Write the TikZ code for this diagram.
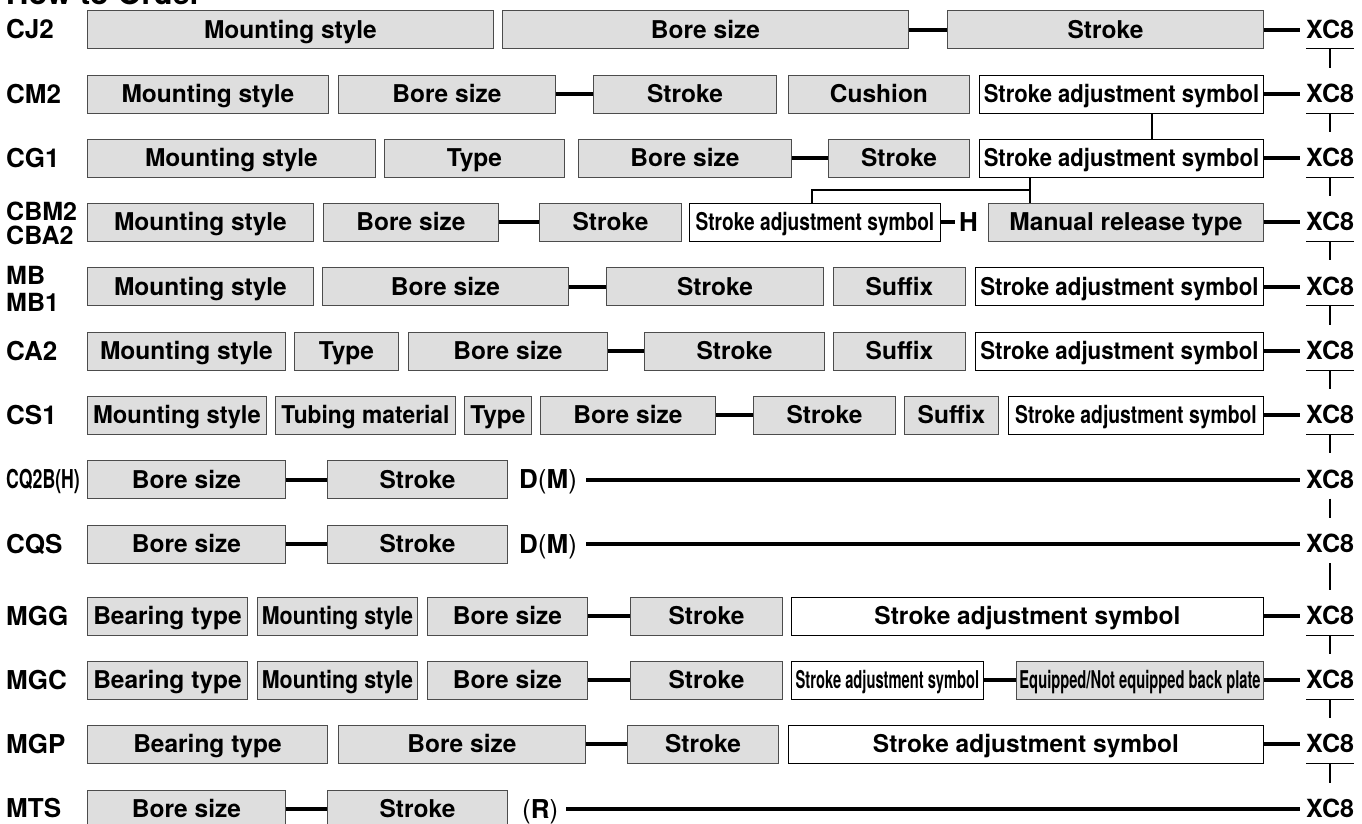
\documentclass[tikz,border=0pt]{standalone}
\usepackage{fontspec}
\setmainfont{TeX Gyre Heros}
\usepackage{graphicx}

\begin{document}
\begin{tikzpicture}[
    x=1pt, y=-1pt,
    opt/.style={
        draw=black!70,
        fill=black!13,     % grey entry box
        line width=0.9pt,
        anchor=west,
        minimum height=38pt,
        inner sep=0pt,
        text height=17.5pt,
        text depth=0pt,
        font=\bfseries\fontsize{24.5}{28}\selectfont
    },
    adj/.style={opt, draw=black, fill=white},   % white box
    code/.style={anchor=west, inner sep=0pt, text height=18pt, text depth=0pt,
        font=\bfseries\fontsize{26}{26}\selectfont},
    codetwo/.style={anchor=west, inner sep=0pt, align=left},
    xc/.style={anchor=west, inner sep=0pt, minimum height=38pt,
        text height=17.5pt, text depth=0pt,
        font=\bfseries\fontsize{25}{25}\selectfont},
    link/.style={line width=4pt},
    tie/.style={line width=2.8pt},
    uline/.style={line width=1.2pt}
]
\useasboundingbox (0,0) rectangle (1362,823);

\node[anchor=base west, inner sep=0pt, font=\bfseries\fontsize{31}{31}\selectfont] (title) at (6,4) {How to Order};

% CJ2
\node[code] (l1) at (6,29.5) {CJ2};
\node[opt, minimum width=406pt] (r1a) at (87,29.5) {Mounting style};
\node[opt, minimum width=406pt] (r1b) at (502,29.5) {Bore size};
\node[opt, minimum width=316pt] (r1c) at (947,29.5) {Stroke};
\node[xc] (x1) at (1306,29.5) {XC8};
\draw[link] (r1b.east) -- (r1c.west);
\draw[link] (r1c.east) -- ([xshift=-6pt]x1.west);

% CM2
\node[code] (l2) at (6,94) {CM2};
\node[opt, minimum width=241pt] (r2a) at (87,94) {Mounting style};
\node[opt, minimum width=217pt] (r2b) at (338,94) {Bore size};
\node[opt, minimum width=183pt] (r2c) at (593,94) {Stroke};
\node[opt, minimum width=181pt] (r2d) at (788,94) {Cushion};
\node[adj, minimum width=284pt] (r2e) at (979,94) {\scalebox{0.9}[1]{Stroke adjustment symbol}};
\node[xc] (x2) at (1306,94) {XC8};
\draw[link] (r2b.east) -- (r2c.west);
\draw[link] (r2e.east) -- ([xshift=-6pt]x2.west);

% CG1
\node[code] (l3) at (6,158) {CG1};
\node[opt, minimum width=288pt] (r3a) at (87,158) {Mounting style};
\node[opt, minimum width=180pt] (r3b) at (384,158) {Type};
\node[opt, minimum width=213pt] (r3c) at (578,158) {Bore size};
\node[opt, minimum width=141pt] (r3d) at (828,158) {Stroke};
\node[adj, minimum width=284pt] (r3e) at (979,158) {\scalebox{0.9}[1]{Stroke adjustment symbol}};
\node[xc] (x3) at (1306,158) {XC8};
\draw[link] (r3c.east) -- (r3d.west);
\draw[link] (r3e.east) -- ([xshift=-6pt]x3.west);
\draw[line width=2pt] ([xshift=31pt]r2e.south) -- ([xshift=31pt]r3e.north);

% CBM2 / CBA2
\node[codetwo, font=\bfseries\fontsize{25}{24}\selectfont] (l4) at (6,223) {CBM2\\CBA2};
\node[opt, minimum width=226pt] (r4a) at (87,222) {Mounting style};
\node[opt, minimum width=175pt] (r4b) at (323,222) {Bore size};
\node[opt, minimum width=142pt] (r4c) at (539,222) {Stroke};
\node[adj, minimum width=251pt] (r4d) at (689,222) {\scalebox{0.78}[1]{Stroke adjustment symbol}};
\node[code, inner xsep=4pt] (r4h) at (955,222) {H};
\node[opt, minimum width=275pt] (r4e) at (988,222) {Manual release type};
\node[xc] (x4) at (1306,222) {XC8};
\draw[link] (r4b.east) -- (r4c.west);
\draw[link] (r4d.east) -- (r4h.west);
\draw[link] (r4e.east) -- ([xshift=-6pt]x4.west);
\coordinate (fork) at (1030,190);
\coordinate (forkl) at (812,190);
\draw[tie] (r3e.south -| fork) -- (fork |- r4e.north);
\draw[tie] (fork) -- (forkl) -- (forkl |- r4d.north);

% MB / MB1
\node[codetwo, font=\bfseries\fontsize{25}{27}\selectfont] (l5) at (6,288.5) {MB\\MB1};
\node[opt, minimum width=226pt] (r5a) at (87,286.5) {Mounting style};
\node[opt, minimum width=246pt] (r5b) at (322,286.5) {Bore size};
\node[opt, minimum width=217pt] (r5c) at (606,286.5) {Stroke};
\node[opt, minimum width=132pt] (r5d) at (833,286.5) {Suffix};
\node[adj, minimum width=288pt] (r5e) at (975,286.5) {\scalebox{0.91}[1]{Stroke adjustment symbol}};
\node[xc] (x5) at (1306,286.5) {XC8};
\draw[link] (r5b.east) -- (r5c.west);
\draw[link] (r5e.east) -- ([xshift=-6pt]x5.west);

% CA2
\node[code] (l6) at (6,351) {CA2};
\node[opt, minimum width=198pt] (r6a) at (87,351) {Mounting style};
\node[opt, minimum width=104pt] (r6b) at (294,351) {Type};
\node[opt, minimum width=199pt] (r6c) at (408,351) {Bore size};
\node[opt, minimum width=180pt] (r6d) at (644,351) {Stroke};
\node[opt, minimum width=132pt] (r6e) at (833,351) {Suffix};
\node[adj, minimum width=288pt] (r6f) at (975,351) {\scalebox{0.91}[1]{Stroke adjustment symbol}};
\node[xc] (x6) at (1306,351) {XC8};
\draw[link] (r6c.east) -- (r6d.west);
\draw[link] (r6f.east) -- ([xshift=-6pt]x6.west);

% CS1
\node[code] (l7) at (6,415) {CS1};
\node[opt, minimum width=179pt] (r7a) at (87,415) {\scalebox{0.97}[1]{Mounting style}};
\node[opt, minimum width=180pt] (r7b) at (275,415) {\scalebox{0.93}[1]{Tubing material}};
\node[opt, minimum width=67pt] (r7c) at (464,415) {Type};
\node[opt, minimum width=175pt] (r7d) at (540,415) {Bore size};
\node[opt, minimum width=142pt] (r7e) at (753,415) {Stroke};
\node[opt, minimum width=94pt] (r7f) at (904,415) {Suffix};
\node[adj, minimum width=255pt] (r7g) at (1008,415) {\scalebox{0.79}[1]{Stroke adjustment symbol}};
\node[xc] (x7) at (1306,415) {XC8};
\draw[link] (r7d.east) -- (r7e.west);
\draw[link] (r7g.east) -- ([xshift=-6pt]x7.west);

% CQ2B(H)
\node[code] (l8) at (6,479.5) {\scalebox{0.68}[1]{CQ2B(H)}};
\node[opt, minimum width=198pt] (r8a) at (87,479.5) {Bore size};
\node[opt, minimum width=180pt] (r8b) at (327,479.5) {Stroke};
\node[code, font=\fontsize{26}{26}\selectfont] (r8m) at (519,479.5) {{\bfseries D}({\bfseries M})};
\node[xc] (x8) at (1306,479.5) {XC8};
\draw[link] (r8a.east) -- (r8b.west);
\draw[link] ([xshift=9pt]r8m.east) -- ([xshift=-6pt]x8.west);

% CQS
\node[code] (l9) at (6,544) {CQS};
\node[opt, minimum width=198pt] (r9a) at (87,544) {Bore size};
\node[opt, minimum width=180pt] (r9b) at (327,544) {Stroke};
\node[code, font=\fontsize{26}{26}\selectfont] (r9m) at (519,544) {{\bfseries D}({\bfseries M})};
\node[xc] (x9) at (1306,544) {XC8};
\draw[link] (r9a.east) -- (r9b.west);
\draw[link] ([xshift=9pt]r9m.east) -- ([xshift=-6pt]x9.west);

% MGG
\node[code] (l10) at (6,616) {MGG};
\node[opt, minimum width=160pt] (r10a) at (87,616) {Bearing type};
\node[opt, minimum width=160pt] (r10b) at (257,616) {\scalebox{0.875}[1]{Mounting style}};
\node[opt, minimum width=160pt] (r10c) at (427,616) {Bore size};
\node[opt, minimum width=152pt] (r10d) at (630,616) {Stroke};
\node[adj, minimum width=472pt] (r10e) at (791,616) {Stroke adjustment symbol};
\node[xc] (x10) at (1306,616) {XC8};
\draw[link] (r10c.east) -- (r10d.west);
\draw[link] (r10e.east) -- ([xshift=-6pt]x10.west);

% MGC
\node[code] (l11) at (6,680) {MGC};
\node[opt, minimum width=160pt] (r11a) at (87,680) {Bearing type};
\node[opt, minimum width=160pt] (r11b) at (257,680) {\scalebox{0.875}[1]{Mounting style}};
\node[opt, minimum width=160pt] (r11c) at (427,680) {Bore size};
\node[opt, minimum width=152pt] (r11d) at (630,680) {Stroke};
\node[adj, minimum width=192pt] (r11e) at (791,680) {\scalebox{0.6}[1]{Stroke adjustment symbol}};
\node[opt, minimum width=247pt] (r11f) at (1016,680) {\scalebox{0.6}[1]{Equipped/Not equipped back plate}};
\node[xc] (x11) at (1306,680) {XC8};
\draw[link] (r11c.east) -- (r11d.west);
\draw[link] (r11e.east) -- (r11f.west);
\draw[link] (r11f.east) -- ([xshift=-6pt]x11.west);

% MGP
\node[code] (l12) at (6,744) {MGP};
\node[opt, minimum width=240pt] (r12a) at (87,744) {Bearing type};
\node[opt, minimum width=247pt] (r12b) at (338,744) {Bore size};
\node[opt, minimum width=151pt] (r12c) at (627,744) {Stroke};
\node[adj, minimum width=475pt] (r12d) at (788,744) {Stroke adjustment symbol};
\node[xc] (x12) at (1306,744) {XC8};
\draw[link] (r12b.east) -- (r12c.west);
\draw[link] (r12d.east) -- ([xshift=-6pt]x12.west);

% MTS
\node[code] (l13) at (6,808) {MTS};
\node[opt, minimum width=198pt] (r13a) at (87,809) {Bore size};
\node[opt, minimum width=180pt] (r13b) at (327,809) {Stroke};
\node[code, font=\fontsize{26}{26}\selectfont] (r13m) at (522,809) {(\textbf{R})};
\node[xc] (x13) at (1306,809) {XC8};
\draw[link] (r13a.east) -- (r13b.west);
\draw[link] ([xshift=8pt]r13m.east) -- ([xshift=-6pt]x13.west);

% XC8 column
\foreach \n in {1,...,7,10,11,12}
    \draw[uline] (x\n.south west) -- (x\n.south east);
\foreach \a/\b in {1/2,2/3,3/4,4/5,5/6,6/7,7/8,8/9,9/10,10/11,11/12,12/13}
    \draw[tie] (x\a.south) -- ([yshift=7pt]x\b.north);
\end{tikzpicture}
\end{document}
